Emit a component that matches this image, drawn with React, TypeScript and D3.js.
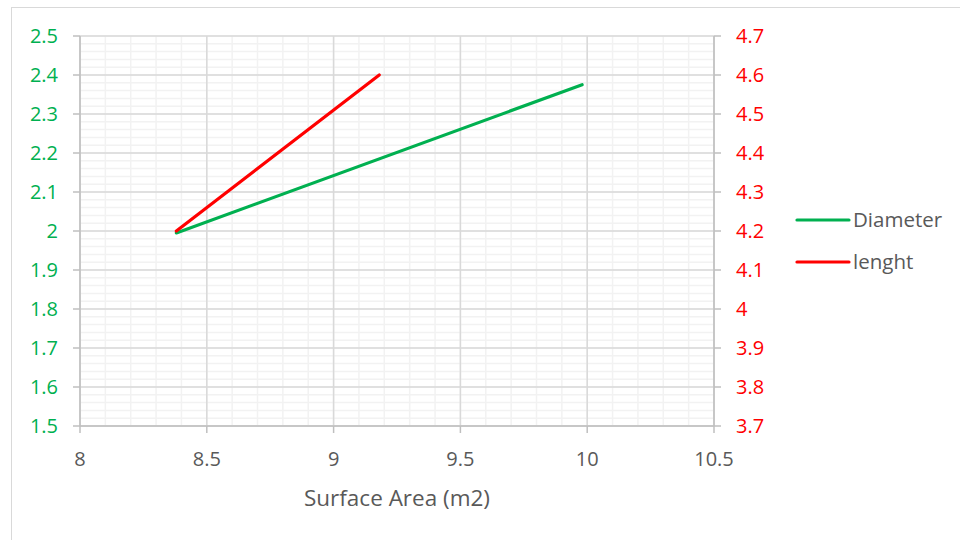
import React from 'react'
import * as d3 from 'd3'

// data
const diameterX = [8.38, 9.98]
const diameterY = [1.995, 2.375]
const lengthX = [8.38, 9.18]
const lengthY = [4.2, 4.6]

const xTicks = [8, 8.5, 9, 9.5, 10, 10.5]
const leftTicks = [1.5, 1.6, 1.7, 1.8, 1.9, 2, 2.1, 2.2, 2.3, 2.4, 2.5]
const rightTicks = [3.7, 3.8, 3.9, 4, 4.1, 4.2, 4.3, 4.4, 4.5, 4.6, 4.7]

const seriesNames = ['Diameter', 'lenght']
const GREEN = '#00B050'
const RED = '#FF0000'
const TEXT = '#595959'
const FONT = '"Open Sans", "Noto Sans", sans-serif'

const App: React.FC = () => {
  if (typeof document !== 'undefined') document.body.style.margin = '0'

  const left = 80, right = 714, top = 36, bottom = 426
  const x = d3.scaleLinear().domain([8, 10.5]).range([left, right])
  const yL = d3.scaleLinear().domain([1.5, 2.5]).range([bottom, top])
  const yR = d3.scaleLinear().domain([3.7, 4.7]).range([bottom, top])

  const minorX = d3.range(8, 10.5001, 0.1)
  const minorY = d3.range(1.5, 2.5001, 0.02)

  const diaPts: [number, number][] = diameterX.map((v, i) => [x(v), yL(diameterY[i])])
  const lenPts: [number, number][] = lengthX.map((v, i) => [x(v), yR(lengthY[i])])
  const line = d3.line()

  return (
    <svg width={960} height={540} style={{ display: 'block', fontFamily: FONT }}>
      <rect x={0} y={0} width={960} height={540} fill="#fff" />
      <rect x={11.5} y={7.5} width={960} height={540} fill="none" stroke="#d9d9d9" strokeWidth={1} />

      {/* minor grid */}
      {minorX.map((v, i) => (
        <line key={'mx' + i} x1={x(v)} x2={x(v)} y1={top} y2={bottom} stroke="#f2f2f2" strokeWidth={1.5} />
      ))}
      {minorY.map((v, i) => (
        <line key={'my' + i} x1={left} x2={right} y1={yL(v)} y2={yL(v)} stroke="#f2f2f2" strokeWidth={1.5} />
      ))}
      {/* major grid */}
      {xTicks.map((v, i) => (
        <line key={'gx' + i} x1={x(v)} x2={x(v)} y1={top} y2={bottom} stroke="#d9d9d9" strokeWidth={1.5} />
      ))}
      {leftTicks.map((v, i) => (
        <line key={'gy' + i} x1={left} x2={right} y1={yL(v)} y2={yL(v)} stroke="#d9d9d9" strokeWidth={1.5} />
      ))}

      {/* axes */}
      <line x1={left} x2={left} y1={top} y2={bottom} stroke="#bfbfbf" strokeWidth={1.5} />
      <line x1={right} x2={right} y1={top} y2={bottom} stroke="#bfbfbf" strokeWidth={1.5} />
      <line x1={left} x2={right} y1={bottom} y2={bottom} stroke="#bfbfbf" strokeWidth={1.5} />
      {leftTicks.map((v, i) => (
        <g key={'lt' + i}>
          <line x1={left - 7} x2={left} y1={yL(v)} y2={yL(v)} stroke="#bfbfbf" strokeWidth={1.5} />
          <text x={58} y={yL(v)} dy="0.36em" textAnchor="end" fill={GREEN} fontSize={20}>{v}</text>
        </g>
      ))}
      {rightTicks.map((v, i) => (
        <g key={'rt' + i}>
          <line x1={right} x2={right + 7} y1={yR(v)} y2={yR(v)} stroke="#bfbfbf" strokeWidth={1.5} />
          <text x={736} y={yR(v)} dy="0.36em" textAnchor="start" fill={RED} fontSize={20}>{v}</text>
        </g>
      ))}
      {xTicks.map((v, i) => (
        <g key={'xt' + i}>
          <line x1={x(v)} x2={x(v)} y1={bottom} y2={bottom + 7} stroke="#bfbfbf" strokeWidth={1.5} />
          <text x={x(v)} y={466} textAnchor="middle" fill={TEXT} fontSize={20}>{v}</text>
        </g>
      ))}
      <text x={397} y={506} textAnchor="middle" fill={TEXT} fontSize={22.5}>Surface Area (m2)</text>

      {/* series */}
      <path d={line(diaPts) || ''} fill="none" stroke={GREEN} strokeWidth={3.2} strokeLinecap="round" />
      <path d={line(lenPts) || ''} fill="none" stroke={RED} strokeWidth={3.2} strokeLinecap="round" />

      {/* legend */}
      {seriesNames.map((name, i) => (
        <g key={name} transform={`translate(0,${220 + i * 42})`}>
          <line x1={797} x2={849} y1={0} y2={0} stroke={i === 0 ? GREEN : RED} strokeWidth={3.2} strokeLinecap="round" />
          <text x={853} y={0} dy="0.36em" fill={TEXT} fontSize={20.5}>{name}</text>
        </g>
      ))}
    </svg>
  )
}

export default App
